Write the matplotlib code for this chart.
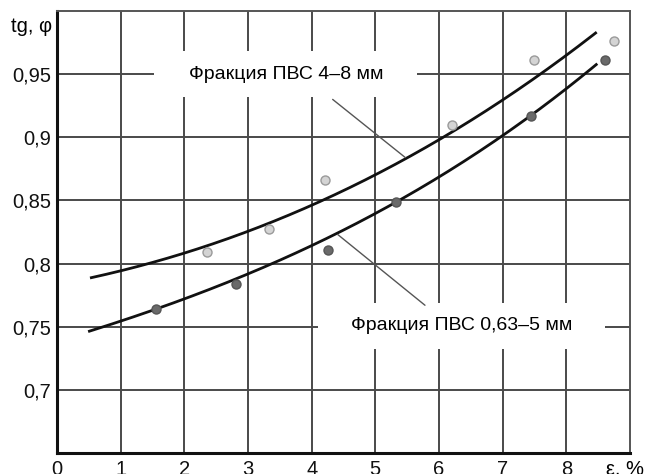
import numpy as np
import matplotlib.pyplot as plt
from matplotlib.patches import Rectangle
from matplotlib.transforms import blended_transform_factory

plt.rcParams['font.family'] = ['Liberation Sans', 'DejaVu Sans']

# measured points, fraction 4-8 mm (light markers)
x_big = [2.35, 3.33, 4.21, 6.20, 7.50, 8.75]
y_big = [0.809, 0.827, 0.866, 0.910, 0.961, 0.976]

# measured points, fraction 0.63-5 mm (dark markers)
x_small = [1.56, 2.81, 4.26, 5.32, 7.45, 8.60]
y_small = [0.764, 0.784, 0.811, 0.849, 0.917, 0.961]

# trend curves
cx_big = [0.54, 1, 2, 3, 4, 5, 6, 7, 8, 8.46]
cy_big = [0.789, 0.794, 0.8085, 0.825, 0.847, 0.870, 0.898, 0.929, 0.966, 0.982]
cx_small = [0.51, 1, 2, 3, 4, 5, 6, 7, 8, 8.47]
cy_small = [0.747, 0.7534, 0.772, 0.793, 0.8143, 0.839, 0.868, 0.900, 0.9434, 0.9545]

xticks = [0, 1, 2, 3, 4, 5, 6, 7, 8]
yticks = [0.7, 0.75, 0.8, 0.85, 0.9, 0.95]
ytick_labels = ['0,7', '0,75', '0,8', '0,85', '0,9', '0,95']

label_big = 'Фракция ПВС 4–8 мм'
label_small = 'Фракция ПВС 0,63–5 мм'

fig = plt.figure(figsize=(6.46, 4.74), dpi=100)
ax = fig.add_axes([0.0882, 0.0443, 0.8870, 0.9325])
ax.set_xlim(0, 9)
ax.set_ylim(0.65, 1.0)
ax.set_axisbelow(True)

ax.set_xticks(xticks)
ax.set_xticklabels([str(t) for t in xticks])
ax.set_yticks(yticks)
ax.set_yticklabels(ytick_labels)
ax.tick_params(length=0, labelsize=14.5, colors='#111111')
ax.tick_params(axis='y', pad=4)
ax.tick_params(axis='x', pad=5)
ax.grid(True, color='#4a4a4a', linewidth=1.4)

for side in ['left', 'bottom']:
    ax.spines[side].set_linewidth(2.2)
    ax.spines[side].set_color('#111111')
for side in ['top', 'right']:
    ax.spines[side].set_linewidth(1.4)
    ax.spines[side].set_color('#555555')

# white boxes under the captions
ax.add_patch(Rectangle((1.53, 0.932), 4.12, 0.036, facecolor='white',
                       edgecolor='none', zorder=1))
ax.add_patch(Rectangle((4.10, 0.7326), 4.51, 0.0364, facecolor='white',
                       edgecolor='none', zorder=1))

# smooth trend lines through the read curve points
for cx, cy in [(cx_big, cy_big), (cx_small, cy_small)]:
    coef = np.polyfit(cx, cy, 3)
    xs = np.linspace(cx[0], cx[-1], 200)
    ax.plot(xs, np.polyval(coef, xs), color='#111111', linewidth=2, zorder=3)

ax.plot(x_big, y_big, 'o', markersize=6.5, markerfacecolor='#d4d4d4',
        markeredgecolor='#9a9a9a', markeredgewidth=1, zorder=4)
ax.plot(x_small, y_small, 'o', markersize=6.5, markerfacecolor='#6a6a6a',
        markeredgecolor='#555555', markeredgewidth=1, zorder=4)

ax.text(3.6, 0.95, label_big, fontsize=14, ha='center', va='center', zorder=2)
ax.text(6.35, 0.751, label_small, fontsize=14, ha='center', va='center', zorder=2)

ax.annotate('', xy=(5.47, 0.884), xytext=(4.33, 0.930),
            arrowprops=dict(arrowstyle='-', color='#555555', lw=1, shrinkA=0, shrinkB=0))
ax.annotate('', xy=(4.41, 0.823), xytext=(5.78, 0.767),
            arrowprops=dict(arrowstyle='-', color='#555555', lw=1, shrinkA=0, shrinkB=0))

# axis captions
tr = blended_transform_factory(ax.transAxes, ax.transData)
ax.text(-0.009, 0.988, 'tg, φ', transform=tr, fontsize=14.5, ha='right', va='center')
ax.annotate('ε, %', xy=(8.92, 0.65), xytext=(0, -5), textcoords='offset points',
            fontsize=14.5, ha='center', va='top')

fig.savefig('out.png', dpi=100)
